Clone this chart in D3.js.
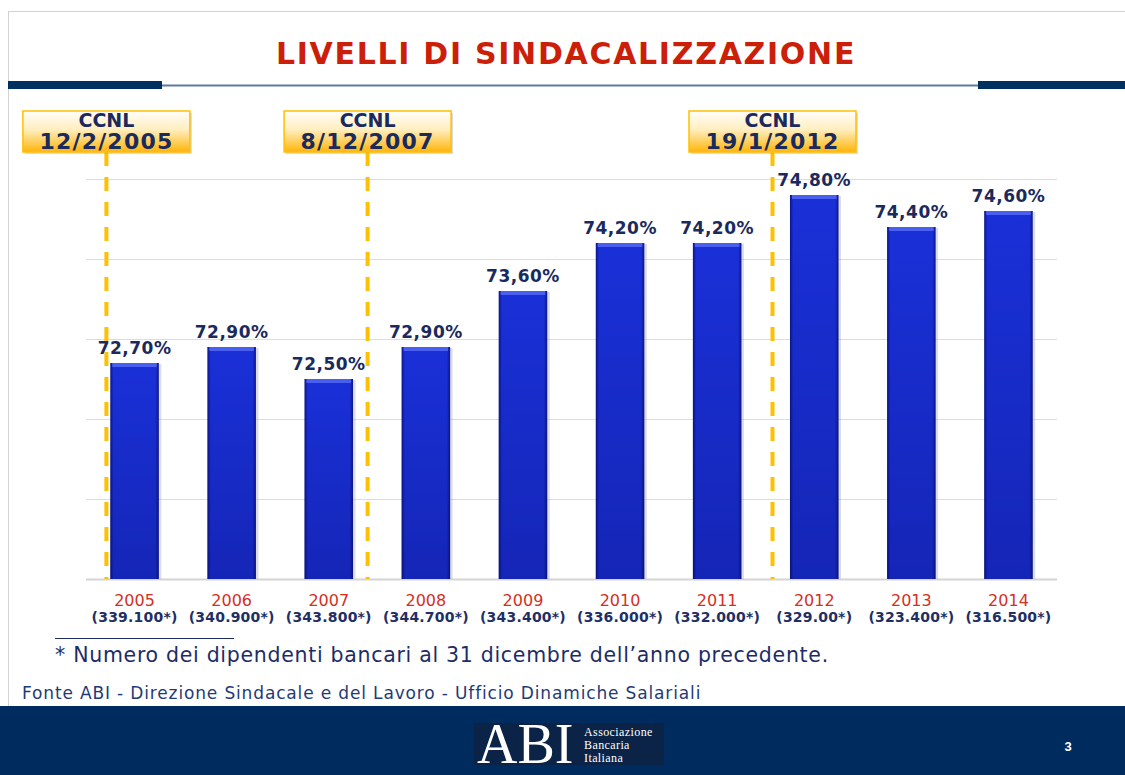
<!DOCTYPE html>
<html>
<head>
<meta charset="utf-8">
<script src="https://cdn.jsdelivr.net/npm/d3@7"></script>
<style>
  body { margin: 0; background: #fff; }
  #chart-area { width: 1125px; height: 775px; }
  text { font-family: "DejaVu Sans", Verdana, sans-serif; }
</style>
</head>
<body>
<div id="chart-area"></div>
<script>
// data
const years = ["2005", "2006", "2007", "2008", "2009", "2010", "2011", "2012", "2013", "2014"];
const rates = [72.7, 72.9, 72.5, 72.9, 73.6, 74.2, 74.2, 74.8, 74.4, 74.6];
const employees = ["(339.100*)", "(340.900*)", "(343.800*)", "(344.700*)", "(343.400*)",
                   "(336.000*)", "(332.000*)", "(329.00*)", "(323.400*)", "(316.500*)"];
const yTicks = [70, 71, 72, 73, 74, 75];

// contract renewals, position given in years along the axis
const contractDates = ["12/2/2005", "8/12/2007", "19/1/2012"];
const contractAt = [2005.21, 2007.9, 2012.07];

const titleText = "LIVELLI DI SINDACALIZZAZIONE";
const footnote = "* Numero dei dipendenti bancari al 31 dicembre dell\u2019anno precedente.";
const source = "Fonte ABI - Direzione Sindacale e del Lavoro - Ufficio Dinamiche Salariali";

class UnionVis {
  constructor(_parentElement) {
    this.parentElement = _parentElement;

    // italian number format: 72,70%
    this.locale = d3.formatLocale({ decimal: ",", thousands: ".", grouping: [3], currency: ["", "€"] });
    this.pct = this.locale.format(".2f");

    this.displayData = years.map((y, i) => ({ year: y, rate: rates[i], emp: employees[i] }));

    this.initVis();
  }

  initVis() {
    let vis = this;

    vis.margin = { top: 179, right: 68, bottom: 196, left: 86 };
    vis.width = 1125 - vis.margin.left - vis.margin.right;
    vis.height = 775 - vis.margin.top - vis.margin.bottom;

    vis.root = d3.select("#" + vis.parentElement)
      .append("svg")
      .attr("width", 1125)
      .attr("height", 775);

    let defs = vis.root.append("defs");

    // bar fill: darker sides, lighter middle
    let gBar = defs.append("linearGradient").attr("id", "barSide");
    gBar.append("stop").attr("offset", "0%").attr("stop-color", "#0b168a");
    gBar.append("stop").attr("offset", "7%").attr("stop-color", "#1a30d8");
    gBar.append("stop").attr("offset", "93%").attr("stop-color", "#1a30d8");
    gBar.append("stop").attr("offset", "100%").attr("stop-color", "#0b168a");

    let gShade = defs.append("linearGradient").attr("id", "barShade")
      .attr("x1", 0).attr("x2", 0).attr("y1", 0).attr("y2", 1);
    gShade.append("stop").attr("offset", "0%").attr("stop-color", "#000040").attr("stop-opacity", 0);
    gShade.append("stop").attr("offset", "100%").attr("stop-color", "#000040").attr("stop-opacity", 0.22);

    let gBox = defs.append("linearGradient").attr("id", "boxFill")
      .attr("x1", 0).attr("x2", 0).attr("y1", 0).attr("y2", 1);
    gBox.append("stop").attr("offset", "0%").attr("stop-color", "#fffefa");
    gBox.append("stop").attr("offset", "45%").attr("stop-color", "#ffeec0");
    gBox.append("stop").attr("offset", "100%").attr("stop-color", "#ffb50a");

    // slide frame
    vis.root.append("rect")
      .attr("x", 8.5).attr("y", 11.5)
      .attr("width", 1130).attr("height", 700)
      .attr("fill", "#fff")
      .attr("stroke", "#d2d2d2");

    // title and its rule
    vis.root.append("text")
      .attr("x", 566).attr("y", 64)
      .attr("text-anchor", "middle")
      .style("font-size", "30px")
      .style("font-weight", "bold")
      .style("letter-spacing", "1.7px")
      .attr("fill", "#cc1f0a")
      .text(titleText);

    vis.root.append("line")
      .attr("x1", 160).attr("x2", 980).attr("y1", 85.5).attr("y2", 85.5)
      .attr("stroke", "#5d7ba2").attr("stroke-width", 2);
    vis.root.append("rect").attr("x", 8).attr("y", 81).attr("width", 154).attr("height", 8).attr("fill", "#00305f");
    vis.root.append("rect").attr("x", 978).attr("y", 81).attr("width", 147).attr("height", 8).attr("fill", "#00305f");

    vis.svg = vis.root.append("g")
      .attr("transform", "translate(" + vis.margin.left + "," + vis.margin.top + ")");

    // scales
    vis.x = d3.scaleBand()
      .domain(years)
      .range([0, vis.width])
      .paddingInner(0.5)
      .paddingOuter(0.25);

    vis.xYear = d3.scaleLinear()
      .domain([2005, 2015])
      .range([0, vis.width]);

    vis.y = d3.scaleLinear()
      .domain([70, 75])
      .range([vis.height, 0]);

    // gridlines
    vis.svg.append("g")
      .attr("class", "grid")
      .call(d3.axisLeft(vis.y).tickValues(yTicks).tickSize(-vis.width).tickFormat(""))
      .call(g => g.select(".domain").remove())
      .call(g => g.selectAll("line")
        .attr("stroke", (d) => d === 70 ? "#d4d4d4" : "#dcdcdc")
        .attr("stroke-width", (d) => d === 70 ? 2 : 1));

    // x axis: year in red + number of employees below
    vis.xAxis = d3.axisBottom(vis.x).tickSize(0).tickPadding(16);
    vis.svg.append("g")
      .attr("class", "x-axis")
      .attr("transform", "translate(0," + vis.height + ")")
      .call(vis.xAxis)
      .call(g => g.select(".domain").remove())
      .call(g => g.selectAll("text")
        .style("font-family", "'DejaVu Sans', Verdana, sans-serif")
        .style("font-size", "16px")
        .attr("fill", "#d3301f"))
      .call(g => g.selectAll(".tick").append("text")
        .attr("y", 43)
        .attr("text-anchor", "middle")
        .style("font-size", "14px")
        .style("font-weight", "bold")
        .style("letter-spacing", "0.2px")
        .attr("fill", "#1e2f66")
        .text((d, i) => employees[i]));

    vis.updateVis();
  }

  updateVis() {
    let vis = this;
    let bw = vis.x.bandwidth();

    let bars = vis.svg.append("g").attr("class", "bars")
      .selectAll("g")
      .data(vis.displayData)
      .join("g")
      .attr("transform", (d) => `translate(${vis.x(d.year)},0)`);

    // soft shadow
    bars.append("rect")
      .attr("x", 1.5)
      .attr("y", (d) => vis.y(d.rate) + 1)
      .attr("width", bw + 1)
      .attr("height", (d) => vis.height - vis.y(d.rate) - 1)
      .attr("fill", "#9a9ab0")
      .attr("opacity", 0.35);

    bars.append("rect")
      .attr("y", (d) => vis.y(d.rate))
      .attr("width", bw)
      .attr("height", (d) => vis.height - vis.y(d.rate))
      .attr("fill", "url(#barSide)");

    bars.append("rect")
      .attr("y", (d) => vis.y(d.rate))
      .attr("width", bw)
      .attr("height", (d) => vis.height - vis.y(d.rate))
      .attr("fill", "url(#barShade)");

    // light bevel on top
    bars.append("rect")
      .attr("x", 2)
      .attr("y", (d) => vis.y(d.rate))
      .attr("width", bw - 4)
      .attr("height", 4)
      .attr("fill", "#4a5ff0");

    bars.append("text")
      .attr("x", bw / 2)
      .attr("y", (d) => vis.y(d.rate) - 9)
      .attr("text-anchor", "middle")
      .style("font-size", "17px")
      .style("font-weight", "bold")
      .style("letter-spacing", "0.5px")
      .attr("fill", "#1b2a5c")
      .text((d) => vis.pct(d.rate) + "%");

    // CCNL markers
    let boxW = 167, boxH = 41, boxTop = 111 - vis.margin.top;

    let marks = vis.svg.append("g").attr("class", "ccnl")
      .selectAll("g")
      .data(contractDates.map((c, i) => ({ date: c, at: contractAt[i] })))
      .join("g")
      .attr("transform", (d) => `translate(${vis.xYear(d.at)},0)`);

    marks.append("line")
      .attr("y1", boxTop + boxH)
      .attr("y2", vis.height)
      .attr("stroke", "#ffc000")
      .attr("stroke-width", 4)
      .attr("stroke-dasharray", "14,11");

    marks.append("rect")
      .attr("x", -boxW / 2 + 2).attr("y", boxTop + 2)
      .attr("width", boxW).attr("height", boxH)
      .attr("fill", "#b0b0b0").attr("opacity", 0.45);

    marks.append("rect")
      .attr("x", -boxW / 2).attr("y", boxTop)
      .attr("width", boxW).attr("height", boxH)
      .attr("fill", "url(#boxFill)")
      .attr("stroke", "#ffc000")
      .attr("stroke-width", 1.5);

    marks.append("text")
      .attr("y", boxTop + 16)
      .attr("text-anchor", "middle")
      .style("font-size", "19px")
      .style("font-weight", "bold")
      .attr("fill", "#1b2a5c")
      .text("CCNL");

    marks.append("text")
      .attr("y", boxTop + 38)
      .attr("text-anchor", "middle")
      .style("font-size", "22px")
      .style("font-weight", "bold")
      .style("letter-spacing", "1.2px")
      .attr("fill", "#1b2a5c")
      .text((d) => d.date);

    // footnote and source
    vis.root.append("line")
      .attr("x1", 55).attr("x2", 234).attr("y1", 638.5).attr("y2", 638.5)
      .attr("stroke", "#1c2d66");
    vis.root.append("text")
      .attr("x", 55).attr("y", 662)
      .style("font-size", "20.5px")
      .style("letter-spacing", "0.7px")
      .attr("fill", "#1c2d66")
      .text(footnote);
    vis.root.append("text")
      .attr("x", 22).attr("y", 699)
      .style("font-size", "17px")
      .style("letter-spacing", "0.85px")
      .attr("fill", "#1f3a78")
      .text(source);

    // footer band with logo
    vis.root.append("rect")
      .attr("x", 0).attr("y", 706).attr("width", 1125).attr("height", 69)
      .attr("fill", "#002b5f");
    vis.root.append("rect")
      .attr("x", 474).attr("y", 723).attr("width", 190).attr("height", 42)
      .attr("fill", "#0b2347");
    vis.root.append("text")
      .attr("x", 477).attr("y", 763)
      .style("font-family", "'Liberation Serif', serif")
      .style("font-size", "56px")
      .attr("fill", "#fff")
      .text("ABI");
    ["Associazione", "Bancaria", "Italiana"].forEach((t, i) => {
      vis.root.append("text")
        .attr("x", 584).attr("y", 736 + i * 13)
        .style("font-family", "'Liberation Serif', serif")
        .style("font-size", "12px")
        .style("letter-spacing", "0.4px")
        .attr("fill", "#fff")
        .text(t);
    });
    vis.root.append("text")
      .attr("x", 1068).attr("y", 751)
      .attr("text-anchor", "middle")
      .style("font-family", "'Liberation Sans', Arial, sans-serif")
      .style("font-size", "13px")
      .style("font-weight", "bold")
      .attr("fill", "#fff")
      .text("3");
  }
}

new UnionVis("chart-area");
</script>
</body>
</html>
